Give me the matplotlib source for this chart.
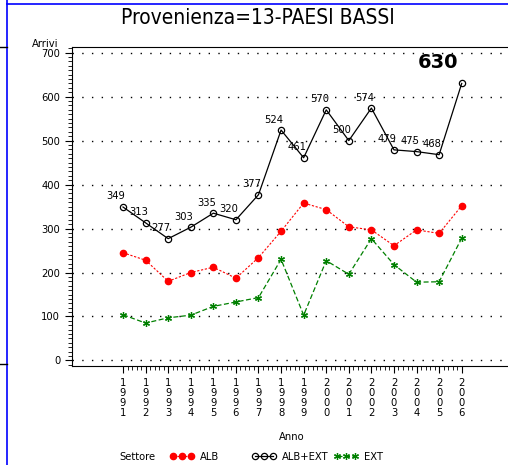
import numpy as np
import matplotlib
matplotlib.use('Agg')
import matplotlib.pyplot as plt
from matplotlib.lines import Line2D
from matplotlib.ticker import MultipleLocator

plt.rcParams['font.family'] = ['DejaVu Sans']
plt.rcParams['font.stretch'] = 'condensed'

anni = list(range(1991, 2007))
alb = [245, 228, 180, 200, 212, 187, 234, 294, 358, 343, 304, 297, 261, 297, 289, 352]
ext = [104, 85, 97, 103, 123, 133, 143, 230, 103, 227, 196, 277, 218, 178, 179, 278]
tot = [349, 313, 277, 303, 335, 320, 377, 524, 461, 570, 500, 574, 479, 475, 468, 630]
etichette_x = ['\n'.join(str(a)) for a in anni]

fig = plt.figure(figsize=(5.08, 4.65), dpi=100)
ax = fig.add_axes([0.1417, 0.213, 0.8583, 0.686])

l1, = ax.plot(anni, alb, color='red', ls=(0, (2, 1.5)), lw=0.8, marker='o', ms=4.5,
              mfc='red', mec='red', label='ALB')
l2, = ax.plot(anni, tot, color='black', ls='-', lw=0.9, marker='o', ms=4.5,
              mfc='none', mec='black', mew=0.9, label='ALB+EXT')
l3, = ax.plot(anni, ext, color='green', ls=(0, (4, 2)), lw=0.9, marker=(6, 2, 0), ms=5,
              mec='green', mew=0.9, label='EXT')

for a, v in zip(anni[:-1], tot[:-1]):
    ax.annotate(str(v), (a, v), xytext=(-5, 4), textcoords='offset points',
                ha='center', va='bottom', fontsize=8)
ax.annotate(str(tot[-1]), (anni[-1], tot[-1]), xytext=(-17, 15),
            textcoords='offset points', ha='center', va='center',
            fontsize=14, fontweight='bold', fontstretch='normal')

for yv in range(0, 800, 100):
    ax.axhline(yv, color='black', lw=1, ls=(0, (1, 6)), zorder=0)

ax.set_xlim(1988.74, 2008.05)
ax.set_ylim(-12.5, 713)
ax.set_xticks(anni)
ax.set_xticklabels(etichette_x, fontsize=8, linespacing=1.0)
ax.set_yticks(range(0, 800, 100))
ax.set_yticklabels([str(v) for v in range(0, 800, 100)], fontsize=8)
ax.yaxis.set_minor_locator(MultipleLocator(10))
ax.tick_params(which='both', direction='out', color='black')
ax.tick_params(which='major', length=5)
ax.tick_params(which='minor', length=3)
# minor ticks only between the first and last year
ax.set_xticks([t for t in np.arange(1991, 2006.01, 0.2) if abs(t - round(t)) > 0.01], minor=True)
ax.spines['right'].set_visible(False)

fig.text(0.508, 0.962, 'Provenienza=13-PAESI BASSI', ha='center', va='center',
         fontsize=15, fontweight='light')
fig.text(0.089, 0.905, 'Arrivi', ha='center', va='center', fontsize=8)
fig.text(0.575, 0.06, 'Anno', ha='center', va='center', fontsize=8)
fig.text(0.27, 0.017, 'Settore', ha='center', va='center', fontsize=8)

# one legend entry per slot, like the SAS legend
for linea, xpx in zip([l1, l2, l3], [170, 252, 334]):
    fig.legend(handles=[linea], loc='center left', bbox_to_anchor=(xpx / 508, 0.017),
               frameon=False, fontsize=8, numpoints=3, handlelength=2.2,
               handletextpad=0.5, borderpad=0, borderaxespad=0)

fig.add_artist(Line2D([7/508, 7/508], [0, 1], color='blue', lw=1.2, transform=fig.transFigure))
fig.add_artist(Line2D([7/508, 1], [1 - 4/465, 1 - 4/465], color='blue', lw=1.2, transform=fig.transFigure))
fig.add_artist(Line2D([0, 7/508], [1 - 47/465, 1 - 47/465], color='black', lw=1, transform=fig.transFigure))
fig.add_artist(Line2D([0, 7/508], [1 - 364/465, 1 - 364/465], color='black', lw=1, transform=fig.transFigure))

plt.savefig('out.png', dpi=100)
